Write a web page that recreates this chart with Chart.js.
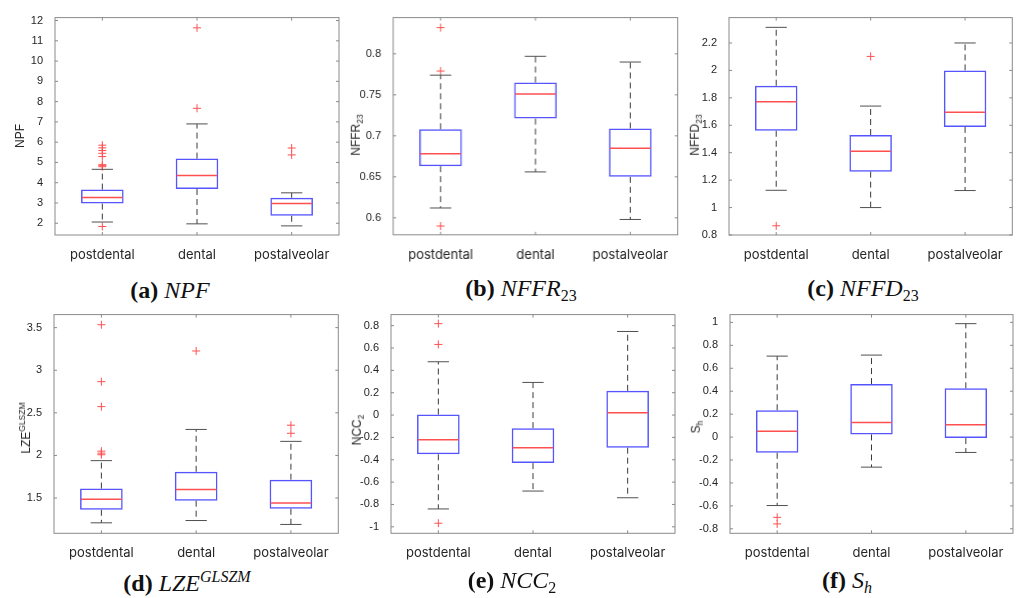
<!DOCTYPE html>
<html>
<head>
<meta charset="utf-8">
<script src="https://cdn.jsdelivr.net/npm/chart.js@4"></script>
<style>
  body { margin: 0; background: #fff; }
  #page { position: relative; width: 1024px; height: 598px; overflow: hidden; background: #fff; }
  .panel { position: absolute; }
  .ytitle { position: absolute; transform: translate(-50%, -50%) rotate(-90deg); white-space: nowrap;
            font-family: "Liberation Sans", Arial, sans-serif; font-size: 12px; color: #262626; }
  .ytitle sub, .ytitle sup { font-size: 8.5px; }
  .caption { position: absolute; transform: translate(-50%, -50%); white-space: nowrap;
             font-family: "Liberation Serif", serif; font-size: 24px; color: #111; }
  .caption sub, .caption sup { font-size: 16px; }
</style>
</head>
<body>
<div id="page"></div>
<script>
const categories = ['postdental', 'dental', 'postalveolar'];

// (a) NPF
const npfQ1 = [2.97, 3.69, 2.37];
const npfMed = [3.27, 4.35, 2.97];
const npfQ3 = [3.66, 5.19, 3.26];
const npfLo = [2.06, 1.97, 1.87];
const npfHi = [4.66, 6.90, 3.50];
const npfOut = [[5.85, 5.72, 5.59, 5.45, 5.29, 4.89, 4.84, 4.79, 1.84], [11.64, 7.67], [5.71, 5.37]];
const npfTicks = [2, 3, 4, 5, 6, 7, 8, 9, 10, 11, 12];

// (b) NFFR23
const nffrQ1 = [0.663, 0.721, 0.650];
const nffrMed = [0.678, 0.751, 0.685];
const nffrQ3 = [0.708, 0.765, 0.709];
const nffrLo = [0.612, 0.656, 0.598];
const nffrHi = [0.774, 0.797, 0.790];
const nffrOut = [[0.832, 0.779, 0.590], [], []];
const nffrTicks = [0.6, 0.65, 0.7, 0.75, 0.8];

// (c) NFFD23
const nffdQ1 = [1.560, 1.262, 1.588];
const nffdMed = [1.771, 1.410, 1.695];
const nffdQ3 = [1.888, 1.529, 2.000];
const nffdLo = [1.126, 1.000, 1.124];
const nffdHi = [2.314, 1.740, 2.200];
const nffdOut = [[0.867], [2.102], []];
const nffdTicks = [0.8, 1, 1.2, 1.4, 1.6, 1.8, 2, 2.2];

// (d) LZE GLSZM
const lzeQ1 = [1.362, 1.469, 1.374];
const lzeMed = [1.485, 1.600, 1.443];
const lzeQ3 = [1.611, 1.808, 1.715];
const lzeLo = [1.209, 1.236, 1.190];
const lzeHi = [1.939, 2.305, 2.165];
const lzeOut = [[3.534, 2.866, 2.573, 2.050, 2.027, 2.008], [3.226], [2.355, 2.26]];
const lzeTicks = [1.5, 2, 2.5, 3, 3.5];

// (e) NCC2
const nccQ1 = [-0.351, -0.430, -0.292];
const nccMed = [-0.220, -0.292, 0.020];
const nccQ3 = [0.005, -0.117, 0.217];
const nccLo = [-0.840, -0.680, -0.740];
const nccHi = [0.477, 0.292, 0.748];
const nccOut = [[0.818, 0.632, -0.968], [], []];
const nccTicks = [-1, -0.8, -0.6, -0.4, -0.2, 0, 0.2, 0.4, 0.6, 0.8];

// (f) Sh
const shQ1 = [-0.137, 0.023, -0.009];
const shMed = [0.051, 0.128, 0.108];
const shQ3 = [0.234, 0.462, 0.425];
const shLo = [-0.597, -0.262, -0.134];
const shHi = [0.706, 0.715, 0.989];
const shOut = [[-0.700, -0.757], [], []];
const shTicks = [-0.8, -0.6, -0.4, -0.2, 0, 0.2, 0.4, 0.6, 0.8, 1];

const BLUE = 'rgb(85,85,255)';
const RED = 'rgb(255,80,80)';
const FRAME = '#8a8a8a';
const Y_W = 60, PAD_T = 6, PAD_R = 8, X_H = 30;

function line(ctx, x1, y1, x2, y2) {
    ctx.beginPath();
    ctx.moveTo(x1, y1);
    ctx.lineTo(x2, y2);
    ctx.stroke();
}

const boxPlugin = {
    id: 'boxStats',
    afterDatasetsDraw(chart, args, opts) {
        const {ctx, scales: {x, y}} = chart;
        const bars = chart.getDatasetMeta(0).data;
        ctx.save();
        opts.med.forEach((m, i) => {
            const cx = x.getPixelForValue(i);
            const half = bars[i].width / 2;
            const yHi = y.getPixelForValue(opts.hi[i]);
            const yLo = y.getPixelForValue(opts.lo[i]);
            ctx.lineWidth = 1;
            ctx.strokeStyle = '#3a3a3a';
            ctx.setLineDash([6, 4]);
            line(ctx, cx, y.getPixelForValue(opts.q3[i]), cx, yHi);
            line(ctx, cx, y.getPixelForValue(opts.q1[i]), cx, yLo);
            ctx.setLineDash([]);
            ctx.strokeStyle = '#505050';
            line(ctx, cx - half / 2, yHi, cx + half / 2, yHi);
            line(ctx, cx - half / 2, yLo, cx + half / 2, yLo);
            ctx.strokeStyle = RED;
            ctx.lineWidth = 1.5;
            const ym = y.getPixelForValue(m);
            line(ctx, cx - half + 1, ym, cx + half - 1, ym);
        });
        ctx.restore();
    },
    afterDraw(chart) {
        const {ctx, chartArea: a, scales: {x, y}} = chart;
        ctx.save();
        ctx.strokeStyle = FRAME;
        ctx.lineWidth = 1;
        ctx.strokeRect(a.left, a.top, a.right - a.left, a.bottom - a.top);
        const t = 3;
        y.ticks.forEach(tk => {
            const py = y.getPixelForValue(tk.value);
            line(ctx, a.left, py, a.left + t, py);
            line(ctx, a.right, py, a.right - t, py);
        });
        categories.forEach((c, i) => {
            const px = x.getPixelForValue(i);
            line(ctx, px, a.bottom, px, a.bottom - t);
            line(ctx, px, a.top, px, a.top + t);
        });
        ctx.restore();
    }
};

function makePanel(p) {
    const [L, T, R, B] = p.frame;
    const div = document.createElement('div');
    div.className = 'panel';
    div.style.left = (L - Y_W) + 'px';
    div.style.top = (T - PAD_T) + 'px';
    div.style.width = (R - L + Y_W + PAD_R) + 'px';
    div.style.height = (B - T + PAD_T + X_H) + 'px';
    const canvas = document.createElement('canvas');
    div.appendChild(canvas);
    document.getElementById('page').appendChild(div);

    const outliers = [];
    p.out.forEach((list, i) => list.forEach(v => outliers.push({x: categories[i], y: v})));

    new Chart(canvas, {
        type: 'bar',
        data: {
            labels: categories,
            datasets: [{
                data: p.q1.map((q, i) => [q, p.q3[i]]),
                backgroundColor: 'rgba(0,0,0,0)',
                borderColor: BLUE,
                borderWidth: 1.5,
                borderSkipped: false,
                barPercentage: 0.45,
                categoryPercentage: 1
            }, {
                type: 'scatter',
                data: outliers,
                pointStyle: 'cross',
                radius: 4,
                borderWidth: 1,
                borderColor: RED,
                backgroundColor: RED
            }]
        },
        options: {
            responsive: true,
            maintainAspectRatio: false,
            animation: false,
            layout: { padding: { top: PAD_T, right: PAD_R, left: 0, bottom: 0 } },
            plugins: {
                legend: { display: false },
                tooltip: { enabled: false },
                boxStats: { q1: p.q1, med: p.med, q3: p.q3, lo: p.lo, hi: p.hi }
            },
            scales: {
                x: {
                    type: 'category',
                    grid: { display: false },
                    border: { display: false },
                    ticks: { color: '#262626', font: { family: 'Inter', size: 13 }, padding: 4, maxRotation: 0, autoSkip: false },
                    afterFit: s => { s.height = X_H; }
                },
                y: {
                    type: 'linear',
                    min: p.min,
                    max: p.max,
                    grid: { display: false },
                    border: { display: false },
                    afterBuildTicks: s => { s.ticks = p.ticks.map(v => ({value: v})); },
                    ticks: {
                        color: '#262626',
                        font: { family: 'Liberation Sans', size: 11 },
                        padding: 4,
                        callback: v => String(Math.round(v * 1000) / 1000)
                    },
                    afterFit: s => { s.width = Y_W; }
                }
            }
        },
        plugins: [boxPlugin]
    });

    const yt = document.createElement('div');
    yt.className = 'ytitle';
    yt.innerHTML = p.ytitle;
    yt.style.left = p.ytPos[0] + 'px';
    yt.style.top = p.ytPos[1] + 'px';
    document.getElementById('page').appendChild(yt);

    const cap = document.createElement('div');
    cap.className = 'caption';
    cap.innerHTML = p.caption;
    cap.style.left = p.capPos[0] + 'px';
    cap.style.top = p.capPos[1] + 'px';
    document.getElementById('page').appendChild(cap);
}

const panels = [
    { frame: [55.3, 12.7, 339.3, 234.7], min: 1.42, max: 12.145, ticks: npfTicks,
      q1: npfQ1, med: npfMed, q3: npfQ3, lo: npfLo, hi: npfHi, out: npfOut,
      ytitle: 'NPF', ytPos: [20, 136], caption: '<b>(a)</b> <i>NPF</i>', capPos: [170, 290] },
    { frame: [393, 12.7, 676.7, 234.5], min: 0.5793, max: 0.8442, ticks: nffrTicks,
      q1: nffrQ1, med: nffrMed, q3: nffrQ3, lo: nffrLo, hi: nffrHi, out: nffrOut,
      ytitle: 'NFFR<sub>23</sub>', ytPos: [357, 135], caption: '<b>(b)</b> <i>NFFR</i><sub>23</sub>', capPos: [521, 290] },
    { frame: [729, 12.7, 1012.3, 234.7], min: 0.8, max: 2.385, ticks: nffdTicks,
      q1: nffdQ1, med: nffdMed, q3: nffdQ3, lo: nffdLo, hi: nffdHi, out: nffdOut,
      ytitle: 'NFFD<sub>23</sub>', ytPos: [696, 135], caption: '<b>(c)</b> <i>NFFD</i><sub>23</sub>', capPos: [863, 290] },
    { frame: [53.5, 310, 337.8, 533.3], min: 1.086, max: 3.653, ticks: lzeTicks,
      q1: lzeQ1, med: lzeMed, q3: lzeQ3, lo: lzeLo, hi: lzeHi, out: lzeOut,
      ytitle: 'LZE<sup>GLSZM</sup>', ytPos: [25, 428], caption: '<b>(d)</b> <i>LZE<sup>GLSZM</sup></i>', capPos: [187, 582] },
    { frame: [391, 310, 675, 533.3], min: -1.058, max: 0.899, ticks: nccTicks,
      q1: nccQ1, med: nccMed, q3: nccQ3, lo: nccLo, hi: nccHi, out: nccOut,
      ytitle: 'NCC<sub>2</sub>', ytPos: [358, 430], caption: '<b>(e)</b> <i>NCC</i><sub>2</sub>', capPos: [512, 582] },
    { frame: [730, 310, 1013, 533.3], min: -0.839, max: 1.068, ticks: shTicks,
      q1: shQ1, med: shMed, q3: shQ3, lo: shLo, hi: shHi, out: shOut,
      ytitle: 'S<sub>h</sub>', ytPos: [697, 427], caption: '<b>(f)</b> <i>S<sub>h</sub></i>', capPos: [847, 582] }
];

panels.forEach(makePanel);
</script>
</body>
</html>
